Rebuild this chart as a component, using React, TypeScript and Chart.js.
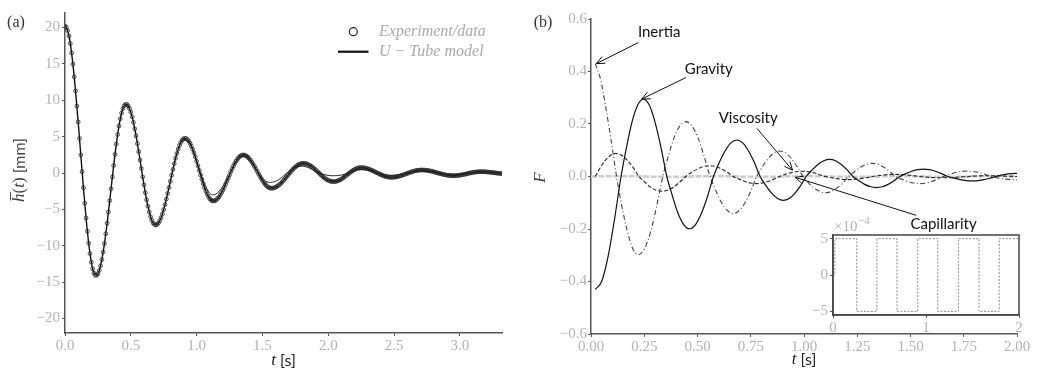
import React, { useEffect, useRef } from "react";
import { Chart, registerables } from "chart.js";
Chart.register(...registerables);

const SERIF = '"Liberation Serif", "DejaVu Serif", serif';
const SANS = 'Lato, "Noto Sans", "DejaVu Sans", sans-serif';
const TICK_COLOR = "#b3b3b3";
const AXIS_COLOR = "#555555";

// ---------------- Panel (a): free surface height ----------------
const expStep = 0.01; // s between experimental samples
const expH = [
  20.2, 20.05, 19.59, 18.84, 17.81, 16.51, 14.97, 13.23, 11.29, 9.22,
  7.03, 4.76, 2.48, 0.19, -2.02, -4.17, -6.19, -8.02, -9.66, -11.08,
  -12.26, -13.16, -13.76, -14.06, -14.07, -13.85, -13.41, -12.76, -11.91, -10.88,
  -9.69, -8.35, -6.91, -5.37, -3.78, -2.16, -0.54, 1.04, 2.56, 3.98,
  5.29, 6.45, 7.45, 8.25, 8.86, 9.26, 9.44, 9.41, 9.22, 8.87,
  8.37, 7.73, 6.96, 6.08, 5.1, 4.04, 2.93, 1.79, 0.63, -0.52,
  -1.63, -2.7, -3.68, -4.57, -5.35, -6.01, -6.52, -6.89, -7.1, -7.15,
  -7.07, -6.87, -6.56, -6.14, -5.62, -5.02, -4.34, -3.59, -2.8, -1.99,
  -1.15, -0.31, 0.5, 1.29, 2.03, 2.7, 3.29, 3.8, 4.21, 4.51,
  4.7, 4.77, 4.73, 4.61, 4.39, 4.09, 3.71, 3.27, 2.76, 2.21,
  1.61, 0.99, 0.36, -0.26, -0.87, -1.46, -2.01, -2.49, -2.91, -3.27,
  -3.54, -3.73, -3.83, -3.85, -3.79, -3.68, -3.51, -3.29, -3.01, -2.7,
  -2.34, -1.96, -1.55, -1.12, -0.69, -0.25, 0.18, 0.59, 0.97, 1.33,
  1.64, 1.92, 2.14, 2.31, 2.42, 2.48, 2.47, 2.42, 2.32, 2.17,
  1.98, 1.75, 1.49, 1.21, 0.9, 0.57, 0.24, -0.09, -0.42, -0.74,
  -1.03, -1.3, -1.54, -1.74, -1.9, -2.01, -2.08, -2.1, -2.08, -2.04,
  -1.96, -1.86, -1.73, -1.58, -1.42, -1.23, -1.03, -0.82, -0.6, -0.37,
  -0.15, 0.07, 0.28, 0.48, 0.66, 0.83, 0.98, 1.1, 1.2, 1.27,
  1.32, 1.33, 1.32, 1.28, 1.23, 1.15, 1.05, 0.93, 0.8, 0.65,
  0.49, 0.33, 0.16, -0.02, -0.19, -0.35, -0.51, -0.66, -0.79, -0.91,
  -1.01, -1.09, -1.14, -1.18, -1.19, -1.18, -1.15, -1.09, -1.02, -0.93,
  -0.83, -0.71, -0.58, -0.44, -0.3, -0.15, -0.01, 0.13, 0.26, 0.38,
  0.48, 0.57, 0.64, 0.7, 0.73, 0.74, 0.73, 0.72, 0.69, 0.64,
  0.59, 0.53, 0.46, 0.38, 0.3, 0.21, 0.12, 0.03, -0.06, -0.15,
  -0.23, -0.31, -0.38, -0.44, -0.49, -0.54, -0.57, -0.59, -0.59, -0.59,
  -0.57, -0.55, -0.52, -0.48, -0.43, -0.38, -0.32, -0.26, -0.19, -0.12,
  -0.06, 0.01, 0.08, 0.14, 0.2, 0.25, 0.3, 0.34, 0.37, 0.39,
  0.41, 0.41, 0.41, 0.4, 0.38, 0.36, 0.33, 0.3, 0.26, 0.22,
  0.17, 0.12, 0.07, 0.02, -0.03, -0.08, -0.13, -0.18, -0.22, -0.26,
  -0.29, -0.32, -0.34, -0.36, -0.37, -0.37, -0.37, -0.36, -0.34, -0.32,
  -0.3, -0.27, -0.23, -0.2, -0.16, -0.12, -0.07, -0.03, 0.01, 0.04,
  0.08, 0.11, 0.13, 0.15, 0.17, 0.18, 0.18, 0.18, 0.17, 0.17,
  0.15, 0.14, 0.12, 0.1, 0.08, 0.06, 0.04, 0.02, -0.01, -0.03,
  -0.05, -0.07, -0.09,
];

const modelStep = 0.02;
const modelH = [
  20.2, 19.59, 17.81, 14.97, 11.29, 7.03, 2.48, -2.02, -6.19, -9.66,
  -12.26, -13.76, -14.07, -13.41, -11.91, -9.69, -6.91, -3.78, -0.54, 2.56,
  5.29, 7.45, 8.86, 9.44, 9.22, 8.37, 6.96, 5.1, 2.93, 0.63,
  -1.63, -3.68, -5.35, -6.52, -7.1, -7.07, -6.56, -5.62, -4.34, -2.8,
  -1.15, 0.5, 2.03, 3.29, 4.21, 4.7, 4.73, 4.39, 3.71, 2.76,
  1.61, 0.36, -0.87, -2.01, -2.91, -3.54, -3.83, -3.79, -3.51, -3.01,
  -2.34, -1.55, -0.69, 0.18, 0.97, 1.64, 2.14, 2.42, 2.47, 2.32,
  1.98, 1.49, 0.9, 0.24, -0.42, -1.03, -1.54, -1.9, -2.08, -2.08,
  -1.96, -1.73, -1.42, -1.03, -0.6, -0.15, 0.28, 0.66, 0.98, 1.2,
  1.32, 1.32, 1.23, 1.05, 0.8, 0.49, 0.16, -0.19, -0.51, -0.79,
  -1.01, -1.14, -1.19, -1.15, -1.02, -0.83, -0.58, -0.3, -0.01, 0.26,
  0.48, 0.64, 0.73, 0.73, 0.69, 0.59, 0.46, 0.3, 0.12, -0.06,
  -0.23, -0.38, -0.49, -0.57, -0.59, -0.57, -0.52, -0.43, -0.32, -0.19,
  -0.06, 0.08, 0.2, 0.3, 0.37, 0.41, 0.41, 0.38, 0.33, 0.26,
  0.17, 0.07, -0.03, -0.13, -0.22, -0.29, -0.34, -0.37, -0.37, -0.34,
  -0.3, -0.23, -0.16, -0.07, 0.01, 0.08, 0.13, 0.17, 0.18, 0.17,
  0.15, 0.12, 0.08, 0.04, -0.01, -0.05, -0.09,
];

const model2T = [
  0.9, 0.96, 1.02, 1.07, 1.12, 1.17, 1.24, 1.3, 1.35, 1.4, 1.46, 1.51, 1.56, 1.62,
  1.69, 1.75, 1.8, 1.86, 1.93, 1.99, 2.04, 2.1, 2.16, 2.21, 2.25, 2.31, 2.37, 2.43,
  2.48, 2.54, 2.61, 2.66, 2.71, 2.77, 2.83, 2.89, 2.95, 3.01, 3.08, 3.12, 3.16,
  3.22, 3.27, 3.32,
];
const model2H = [
  4.7, 3.7, 0.5, -1.9, -3.0, -2.55, -0.6, 1.55, 2.35, 1.85, 0.25, -0.95, -1.3, -0.95,
  0.05, 0.75, 0.95, 0.65, 0.0, -0.3, -0.38, -0.28, 0.05, 0.35, 0.45, 0.35, 0.02, -0.25,
  -0.32, -0.22, 0.02, 0.2, 0.25, 0.18, 0.0, -0.15, -0.2, -0.14, 0.01, 0.1, 0.12,
  0.08, 0.0, -0.06,
];

const aXTicks = [0, 0.5, 1, 1.5, 2, 2.5, 3];
const aYTicks = [-20, -15, -10, -5, 0, 5, 10, 15, 20];

// ---------------- Panel (b): force contributions ----------------
const gravityT = [
  0.02, 0.05, 0.08, 0.11, 0.141, 0.167, 0.193, 0.22, 0.246, 0.273, 0.3, 0.328, 0.356,
  0.383, 0.409, 0.436, 0.462, 0.49, 0.518, 0.547, 0.575, 0.602, 0.63, 0.657, 0.684,
  0.712, 0.739, 0.767, 0.794, 0.821, 0.849, 0.876, 0.903, 0.93, 0.957, 0.984, 1.01,
  1.038, 1.065, 1.093, 1.12, 1.148, 1.175, 1.203, 1.23, 1.258, 1.285, 1.313, 1.34,
  1.368, 1.395, 1.423, 1.45, 1.478, 1.505, 1.533, 1.56, 1.589, 1.618, 1.646, 1.675,
  1.704, 1.733, 1.761, 1.79, 1.818, 1.845, 1.873, 1.9, 1.925, 1.95, 1.975, 2.0,
];
const gravityF = [
  -0.43, -0.4, -0.305, -0.165, 0, 0.113, 0.209, 0.273, 0.295, 0.273, 0.209, 0.113, 0,
  -0.076, -0.141, -0.184, -0.199, -0.184, -0.141, -0.076, 0, 0.053, 0.098, 0.128, 0.139,
  0.128, 0.098, 0.053, 0, -0.035, -0.064, -0.084, -0.091, -0.084, -0.064, -0.035, 0,
  0.025, 0.046, 0.06, 0.065, 0.06, 0.046, 0.025, 0, -0.016, -0.03, -0.039, -0.042,
  -0.039, -0.03, -0.016, 0, 0.011, 0.02, 0.026, 0.028, 0.026, 0.02, 0.011, 0,
  -0.0065, -0.012, -0.0157, -0.017, -0.0157, -0.012, -0.0065, 0, 0.005, 0.009, 0.011, 0.012,
];

const inertiaT = [
  0.02, 0.045, 0.07, 0.095, 0.12, 0.145, 0.171, 0.196, 0.222, 0.251, 0.28, 0.308, 0.337,
  0.364, 0.39, 0.417, 0.444, 0.473, 0.502, 0.53, 0.559, 0.586, 0.613, 0.641, 0.668,
  0.696, 0.723, 0.751, 0.778, 0.805, 0.832, 0.86, 0.887, 0.914, 0.941, 0.968, 0.995,
  1.021, 1.048, 1.074, 1.1, 1.128, 1.155, 1.183, 1.21, 1.238, 1.265, 1.293, 1.32,
  1.348, 1.375, 1.403, 1.43, 1.459, 1.488, 1.516, 1.545, 1.573, 1.6, 1.628, 1.655,
  1.683, 1.71, 1.738, 1.765, 1.794, 1.823, 1.851, 1.88, 1.91, 1.94, 1.97, 2.0,
];
const inertiaF = [
  0.43, 0.37, 0.26, 0.135, 0, -0.114, -0.21, -0.275, -0.298, -0.275, -0.21, -0.114, 0,
  0.08, 0.148, 0.193, 0.209, 0.193, 0.148, 0.08, 0, -0.054, -0.1, -0.13, -0.141,
  -0.13, -0.1, -0.054, 0, 0.037, 0.069, 0.09, 0.097, 0.09, 0.069, 0.037, 0,
  -0.024, -0.044, -0.057, -0.062, -0.057, -0.044, -0.024, 0, 0.019, 0.035, 0.046, 0.05,
  0.046, 0.035, 0.019, 0, -0.01, -0.019, -0.025, -0.027, -0.025, -0.019, -0.01, 0,
  0.008, 0.015, 0.019, 0.021, 0.019, 0.015, 0.008, 0, -0.0055, -0.0095, -0.0115, -0.012,
];

const viscosityT = [
  0.02, 0.044, 0.068, 0.092, 0.116, 0.143, 0.17, 0.198, 0.225, 0.252, 0.278, 0.305, 0.332,
  0.36, 0.388, 0.417, 0.445, 0.473, 0.501, 0.529, 0.557, 0.585, 0.612, 0.64, 0.667,
  0.695, 0.722, 0.75, 0.777, 0.804, 0.831, 0.858, 0.885, 0.911, 0.938, 0.964, 0.99,
  1.045, 1.1, 1.155, 1.21, 1.265, 1.32, 1.375, 1.43, 1.485, 1.54, 1.595, 1.65, 1.705,
  1.76, 1.815, 1.87, 1.935, 2.0,
];
const viscosityF = [
  0, 0.034, 0.062, 0.081, 0.088, 0.081, 0.062, 0.034, 0, -0.021, -0.04, -0.052, -0.056,
  -0.052, -0.04, -0.021, 0, 0.016, 0.029, 0.038, 0.041, 0.038, 0.029, 0.016, 0,
  -0.01, -0.019, -0.025, -0.027, -0.025, -0.019, -0.01, 0, 0.008, 0.014, 0.018, 0.02,
  0.014, 0, -0.008, -0.012, -0.008, 0, 0.006, 0.008, 0.006, 0, -0.0035, -0.005, -0.0035,
  0, 0.002, 0.003, 0.0015, 0,
];

// Capillarity square wave, in units of 1e-4
const capT = [0, 0.02, 0.256, 0.472, 0.688, 0.911, 1.127, 1.348, 1.57, 1.787, 2.0];
const capE4 = [0, 5, -5, 5, -5, 5, -5, 5, -5, 5, 5];

const bXTicks = [0, 0.25, 0.5, 0.75, 1, 1.25, 1.5, 1.75, 2];
const bYTicks = [-0.6, -0.4, -0.2, 0, 0.2, 0.4, 0.6];
const insetXTicks = [0, 1, 2];
const insetYTicks = [-5, 0, 5];

// annotation label / arrow anchors in data coordinates (t, F)
const annotations = [
  { label: "Inertia", text: [0.32, 0.548], tail: [0.222, 0.51], head: [0.025, 0.43] },
  { label: "Gravity", text: [0.553, 0.41], tail: [0.446, 0.377], head: [0.238, 0.295] },
  { label: "Viscosity", text: [0.738, 0.222], tail: [0.779, 0.183], head: [0.946, 0.024] },
  { label: "Capillarity", text: [1.655, -0.182], tail: [1.527, -0.148], head: [0.958, -0.003] },
];

// ---------------- helpers ----------------
const fmt = (v: number, d: number) => {
  const s = d === 0 ? String(Math.round(v)) : v.toFixed(d);
  return s.replace("-", "\u2212");
};

function axis(min: number, max: number, ticks: number[], dec: number, size: number, horizontal: boolean, pad = 2) {
  return {
    type: "linear" as const,
    min,
    max,
    afterBuildTicks: (s: any) => {
      s.ticks = ticks.map((v) => ({ value: v }));
    },
    afterFit: (s: any) => {
      if (horizontal) s.height = size;
      else s.width = size;
    },
    grid: { drawOnChartArea: false, drawTicks: true, tickLength: 3, color: AXIS_COLOR, lineWidth: 1 },
    border: { display: true, color: AXIS_COLOR, width: 1.5 },
    ticks: {
      color: TICK_COLOR,
      font: { family: SERIF, size: 15 },
      padding: pad,
      autoSkip: false,
      maxRotation: 0,
      minRotation: 0,
      callback: (v: any) => fmt(Number(v), dec),
    },
  };
}

type Seg = { t: string; f: string; bar?: boolean };
function drawSegs(ctx: CanvasRenderingContext2D, segs: Seg[], cx: number, cy: number, color: string) {
  ctx.save();
  ctx.fillStyle = color;
  ctx.strokeStyle = color;
  ctx.textBaseline = "middle";
  ctx.textAlign = "left";
  let w = 0;
  const ws = segs.map((s) => {
    ctx.font = s.f;
    const m = ctx.measureText(s.t).width;
    w += m;
    return m;
  });
  let x = cx - w / 2;
  segs.forEach((s, i) => {
    ctx.font = s.f;
    ctx.fillText(s.t, x, cy);
    if (s.bar) {
      ctx.lineWidth = 0.9;
      ctx.beginPath();
      ctx.moveTo(x + 1.5, cy - 9.5);
      ctx.lineTo(x + ws[i] + 1.5, cy - 9.5);
      ctx.stroke();
    }
    x += ws[i];
  });
  ctx.restore();
}

function arrow(ctx: CanvasRenderingContext2D, x1: number, y1: number, x2: number, y2: number) {
  ctx.beginPath();
  ctx.moveTo(x1, y1);
  ctx.lineTo(x2, y2);
  ctx.stroke();
  const a = Math.atan2(y2 - y1, x2 - x1);
  const L = 9;
  const sp = 0.42;
  ctx.beginPath();
  ctx.moveTo(x2 - L * Math.cos(a - sp), y2 - L * Math.sin(a - sp));
  ctx.lineTo(x2, y2);
  ctx.lineTo(x2 - L * Math.cos(a + sp), y2 - L * Math.sin(a + sp));
  ctx.stroke();
}

const toXY = (ts: number[], vs: number[], k = 1) => ts.map((t, i) => ({ x: t, y: vs[i] * k }));

export default function App() {
  const leftRef = useRef<HTMLCanvasElement | null>(null);
  const rightRef = useRef<HTMLCanvasElement | null>(null);
  const insetRef = useRef<HTMLCanvasElement | null>(null);

  useEffect(() => {
    const expData = expH.map((h, i) => ({ x: +(i * expStep).toFixed(2), y: h }));
    const modelData = modelH.map((h, i) => ({ x: +(i * modelStep).toFixed(2), y: h }));

    const leftPlugin = {
      id: "leftDecor",
      afterDraw(chart: any) {
        const ctx: CanvasRenderingContext2D = chart.ctx;
        const ca = chart.chartArea;
        ctx.save();
        ctx.fillStyle = "#333";
        ctx.font = `16px ${SERIF}`;
        ctx.textBaseline = "middle";
        ctx.textAlign = "center";
        ctx.fillText("(a)", 16, 22.5);
        ctx.save();
        ctx.translate(20, (ca.top + ca.bottom) / 2 - 3);
        ctx.rotate(-Math.PI / 2);
        drawSegs(
          ctx,
          [
            { t: "h", f: `italic 17px ${SERIF}`, bar: true },
            { t: "(", f: `17px ${SERIF}` },
            { t: "t", f: `italic 17px ${SERIF}` },
            { t: ") ", f: `17px ${SERIF}` },
            { t: "[mm]", f: `16px ${SANS}` },
          ],
          0,
          0,
          "#444"
        );
        ctx.restore();
        drawSegs(
          ctx,
          [
            { t: "t ", f: `italic 17px ${SERIF}` },
            { t: "[s]", f: `16px ${SANS}` },
          ],
          (ca.left + ca.right) / 2,
          361,
          "#222"
        );
        // legend
        const ds = chart.data.datasets;
        ctx.strokeStyle = "#222";
        ctx.lineWidth = 1.2;
        ctx.beginPath();
        ctx.arc(353.3, 31.7, 4, 0, Math.PI * 2);
        ctx.stroke();
        ctx.strokeStyle = "#111";
        ctx.lineWidth = 2.2;
        ctx.beginPath();
        ctx.moveTo(338, 51.7);
        ctx.lineTo(368.5, 51.7);
        ctx.stroke();
        ctx.fillStyle = "#aaaaaa";
        ctx.font = `italic 16px ${SERIF}`;
        ctx.textAlign = "left";
        ctx.fillText(ds[0].label, 379, 32);
        ctx.fillText(ds[1].label, 379, 52);
        ctx.restore();
      },
    };

    const left = new Chart(leftRef.current as HTMLCanvasElement, {
      type: "line",
      data: {
        datasets: [
          {
            label: "Experiment/data",
            data: expData,
            showLine: false,
            pointRadius: 1.9,
            pointBorderWidth: 0.8,
            pointBorderColor: "#262626",
            pointBackgroundColor: "rgba(0,0,0,0)",
            order: 1,
          } as any,
          {
            label: "U \u2212 Tube model",
            data: modelData,
            borderColor: "#111",
            borderWidth: 1.4,
            pointRadius: 0,
            cubicInterpolationMode: "monotone",
            order: 2,
          },
          {
            label: "U \u2212 Tube model",
            data: toXY(model2T, model2H),
            borderColor: "#2a2a2a",
            borderWidth: 1,
            pointRadius: 0,
            cubicInterpolationMode: "monotone",
            order: 3,
          },
        ],
      },
      options: {
        responsive: false,
        animation: false,
        events: [],
        layout: { padding: { left: 0, top: 13, right: 18, bottom: 0 } },
        plugins: { legend: { display: false }, tooltip: { enabled: false } },
        scales: {
          x: axis(0, 3.32, aXTicks, 1, 37, true, 1) as any,
          y: axis(-22, 22, aYTicks, 0, 65, false) as any,
        },
      },
      plugins: [leftPlugin],
    });

    const rightPlugin = {
      id: "rightDecor",
      afterDraw(chart: any) {
        const ctx: CanvasRenderingContext2D = chart.ctx;
        const ca = chart.chartArea;
        const sx = chart.scales.x;
        const sy = chart.scales.y;
        ctx.save();
        ctx.fillStyle = "#333";
        ctx.font = `16px ${SERIF}`;
        ctx.textBaseline = "middle";
        ctx.textAlign = "center";
        ctx.fillText("(b)", 23, 22.5);
        ctx.save();
        ctx.translate(21, (ca.top + ca.bottom) / 2 + 1);
        ctx.rotate(-Math.PI / 2);
        drawSegs(ctx, [{ t: "F", f: `italic 17px ${SERIF}` }], 0, 0, "#444");
        ctx.restore();
        drawSegs(
          ctx,
          [
            { t: "t ", f: `italic 17px ${SERIF}` },
            { t: "[s]", f: `16px ${SANS}` },
          ],
          (ca.left + ca.right) / 2,
          360,
          "#222"
        );
        ctx.strokeStyle = "#111";
        ctx.lineWidth = 1;
        ctx.fillStyle = "#111";
        ctx.font = `15px ${SANS}`;
        annotations.forEach((a) => {
          arrow(
            ctx,
            sx.getPixelForValue(a.tail[0]),
            sy.getPixelForValue(a.tail[1]),
            sx.getPixelForValue(a.head[0]),
            sy.getPixelForValue(a.head[1])
          );
          ctx.fillText(a.label, sx.getPixelForValue(a.text[0]), sy.getPixelForValue(a.text[1]));
        });
        ctx.restore();
      },
    };

    const right = new Chart(rightRef.current as HTMLCanvasElement, {
      type: "line",
      data: {
        datasets: [
          {
            label: "Capillarity",
            data: toXY(capT, capE4, 1e-4),
            borderColor: "#cdcdcd",
            borderWidth: 2.5,
            borderDash: [6, 1.5],
            pointRadius: 0,
            stepped: "before",
            order: 10,
          },
          {
            label: "Viscosity",
            data: toXY(viscosityT, viscosityF),
            borderColor: "#222",
            borderWidth: 1.1,
            borderDash: [4, 2],
            pointRadius: 0,
            cubicInterpolationMode: "monotone",
            order: 3,
          },
          {
            label: "Inertia",
            data: toXY(inertiaT, inertiaF),
            borderColor: "#444",
            borderWidth: 1.1,
            borderDash: [5, 2.5, 1, 2.5],
            pointRadius: 0,
            cubicInterpolationMode: "monotone",
            order: 2,
          },
          {
            label: "Gravity",
            data: toXY(gravityT, gravityF),
            borderColor: "#111",
            borderWidth: 1.2,
            pointRadius: 0,
            cubicInterpolationMode: "monotone",
            order: 1,
          },
        ],
      },
      options: {
        responsive: false,
        animation: false,
        events: [],
        layout: { padding: { left: 0, top: 19, right: 20, bottom: 0 } },
        plugins: { legend: { display: false }, tooltip: { enabled: false } },
        scales: {
          x: axis(0, 2, bXTicks, 2, 36, true, 1) as any,
          y: axis(-0.6, 0.6, bYTicks, 1, 71, false, 1) as any,
        },
      },
      plugins: [rightPlugin],
    });

    const insetPlugin = {
      id: "insetDecor",
      afterDraw(chart: any) {
        const ctx: CanvasRenderingContext2D = chart.ctx;
        const ca = chart.chartArea;
        ctx.save();
        ctx.strokeStyle = "#444";
        ctx.lineWidth = 1.5;
        ctx.strokeRect(ca.left, ca.top, ca.right - ca.left, ca.bottom - ca.top);
        ctx.fillStyle = TICK_COLOR;
        ctx.textBaseline = "middle";
        ctx.textAlign = "left";
        ctx.font = `15px ${SERIF}`;
        ctx.fillText("\u00d710", ca.left + 1, ca.top - 8);
        const w = ctx.measureText("\u00d710").width;
        ctx.font = `11px ${SERIF}`;
        ctx.fillText("\u22124", ca.left + 1 + w + 0.5, ca.top - 14);
        ctx.restore();
      },
    };

    const inset = new Chart(insetRef.current as HTMLCanvasElement, {
      type: "line",
      data: {
        datasets: [
          {
            label: "Capillarity",
            data: toXY(capT, capE4),
            borderColor: "#8a8a8a",
            borderWidth: 1,
            borderDash: [2, 1.5],
            pointRadius: 0,
            stepped: "before",
          },
        ],
      },
      options: {
        responsive: false,
        animation: false,
        events: [],
        layout: { padding: { left: 0, top: 25, right: 11, bottom: 0 } },
        plugins: { legend: { display: false }, tooltip: { enabled: false } },
        scales: {
          x: axis(0, 2, insetXTicks, 0, 30, true, 1) as any,
          y: axis(-5.5, 5.5, insetYTicks, 0, 33, false) as any,
        },
      },
      plugins: [insetPlugin],
    });

    return () => {
      left.destroy();
      right.destroy();
      inset.destroy();
    };
  }, []);

  return (
    <div style={{ position: "absolute", left: 0, top: 0, width: 1037, height: 370, background: "#fff" }}>
      <canvas ref={leftRef} width={520} height={370} style={{ position: "absolute", left: 0, top: 0, width: 520, height: 370 }} />
      <canvas ref={rightRef} width={517} height={370} style={{ position: "absolute", left: 520, top: 0, width: 517, height: 370 }} />
      <canvas ref={insetRef} width={230} height={135} style={{ position: "absolute", left: 800, top: 210, width: 230, height: 135 }} />
    </div>
  );
}
